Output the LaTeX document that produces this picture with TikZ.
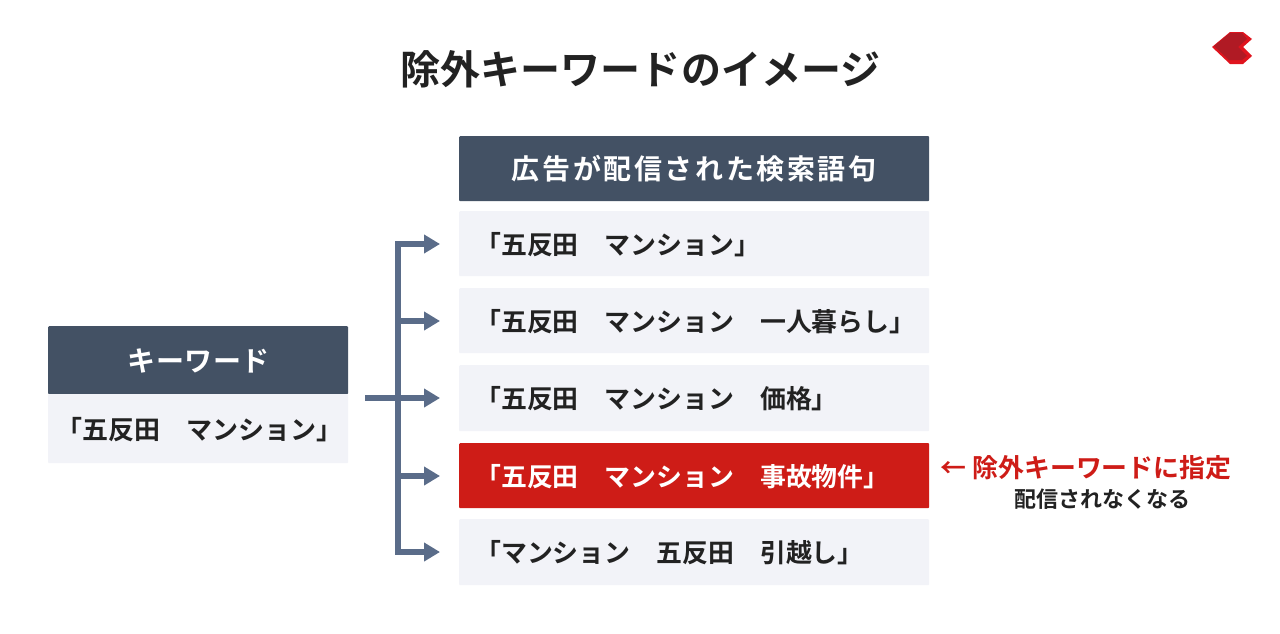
\documentclass[tikz,border=0pt]{standalone}
\usepackage{fontspec}
\setmainfont{Noto Sans CJK JP}
\newfontfamily\jpt[LetterSpace=0.3]{Noto Sans CJK JP Bold}
\newfontfamily\jpb{Noto Sans CJK JP Bold}
\newfontfamily\jpw[LetterSpace=1.8]{Noto Sans CJK JP Bold}
\newfontfamily\jpr[LetterSpace=9.3]{Noto Sans CJK JP Bold}
\usetikzlibrary{arrows.meta}
\definecolor{navy}{HTML}{435164}
\definecolor{pale}{HTML}{F2F3F8}
\definecolor{ink}{HTML}{222222}
\definecolor{alert}{HTML}{CE1C17}
\definecolor{steel}{HTML}{5A6C89}
\definecolor{logolight}{HTML}{E0141E}
\definecolor{logodark}{HTML}{B01A24}
\tikzset{
  headbox/.style={fill=navy,rounded corners=1pt,anchor=north west,inner sep=0pt,text=white},
  rowbox/.style={fill=pale,rounded corners=1pt,anchor=north west,inner sep=0pt,text=ink},
  rowtext/.style={anchor=west,inner sep=0pt,text=ink,font=\jpb\fontsize{25.9}{26}\selectfont},
  flow/.style={draw=steel,line width=5.5pt},
  flowarrow/.style={flow,-{Triangle[length=16pt,width=18pt]}},
}
\begin{document}
\begin{tikzpicture}[x=1pt,y=-1pt]
\useasboundingbox (0,0) rectangle (1280,633);
\fill[white] (0,0) rectangle (1280,633);
\node[text=ink,font=\jpt\fontsize{40}{40}\selectfont] (title) at (640.5,69) {除外キーワードのイメージ};
% logo
\fill[logolight] (1212,47) -- (1230,32) -- (1243,32) -- (1252,39) -- (1243,47) -- (1252,56) -- (1243,64) -- (1230,64) -- cycle;
\fill[logodark] (1214,46) -- (1230,33) -- (1242,33) -- (1247,39) -- (1238,47) -- (1247,56) -- (1242,60) -- (1229,60) -- cycle;
% left table
\node[headbox,minimum width=300pt,minimum height=68pt] (khead) at (48,326) {};
\node[text=white,font=\jpw\fontsize{28}{28}\selectfont,inner sep=0pt] (kheadtext) at (199,360.5) {キーワード};
\node[rowbox,minimum width=300pt,minimum height=69pt] (kval) at (48,394) {};
\node[text=ink,font=\jpb\fontsize{26}{26}\selectfont,inner sep=0pt] (kvaltext) at (199,429.5) {「五反田　マンション」};
% right table
\node[headbox,font=\jpr\fontsize{28}{28}\selectfont,minimum width=470pt,minimum height=65pt] (rhead) at (459,136) {広告が配信された検索語句};
\foreach \n/\y/\h in {r1/211/65,r2/288/65,r3/365/66,r5/519/66}{
  \node[rowbox,minimum width=470pt,minimum height=\h pt] (\n) at (459,\y) {};
}
\node[rowbox,fill=alert,minimum width=470pt,minimum height=65pt] (r4) at (459,443) {};
\node[rowtext] (t1) at (475,244.5) {「五反田　マンション」};
\node[rowtext] (t2) at (475,321.5) {「五反田　マンション　一人暮らし」};
\node[rowtext] (t3) at (475,398.5) {「五反田　マンション　価格」};
\node[rowtext,text=white] (t4) at (475,476.5) {「五反田　マンション　事故物件」};
\node[rowtext] (t5) at (475,552.5) {「マンション　五反田　引越し」};
% annotation
\node[rowtext,text=alert] (note) at (940.5,467.5) {← 除外キーワードに指定};
\node[text=ink,font=\jpb\fontsize{22}{22}\selectfont,inner sep=0pt] (sub) at (1102,499) {配信されなくなる};
% connectors
\coordinate (src) at (365,398);
\coordinate (tr1) at (398,244);
\coordinate (tr2) at (398,321);
\coordinate (tr3) at (398,398);
\coordinate (tr4) at (398,476);
\coordinate (tr5) at (398,552);
\coordinate (e1) at (440,244);
\coordinate (e2) at (440,321);
\coordinate (e3) at (440,398);
\coordinate (e4) at (440,476);
\coordinate (e5) at (440,552);
\draw[flow] (src) -- (tr3);
\draw[flow,line cap=rect] (tr1) -- (tr5);
\draw[flowarrow] (tr1) -- (e1);
\draw[flowarrow] (tr2) -- (e2);
\draw[flowarrow] (tr3) -- (e3);
\draw[flowarrow] (tr4) -- (e4);
\draw[flowarrow] (tr5) -- (e5);
\end{tikzpicture}
\end{document}
